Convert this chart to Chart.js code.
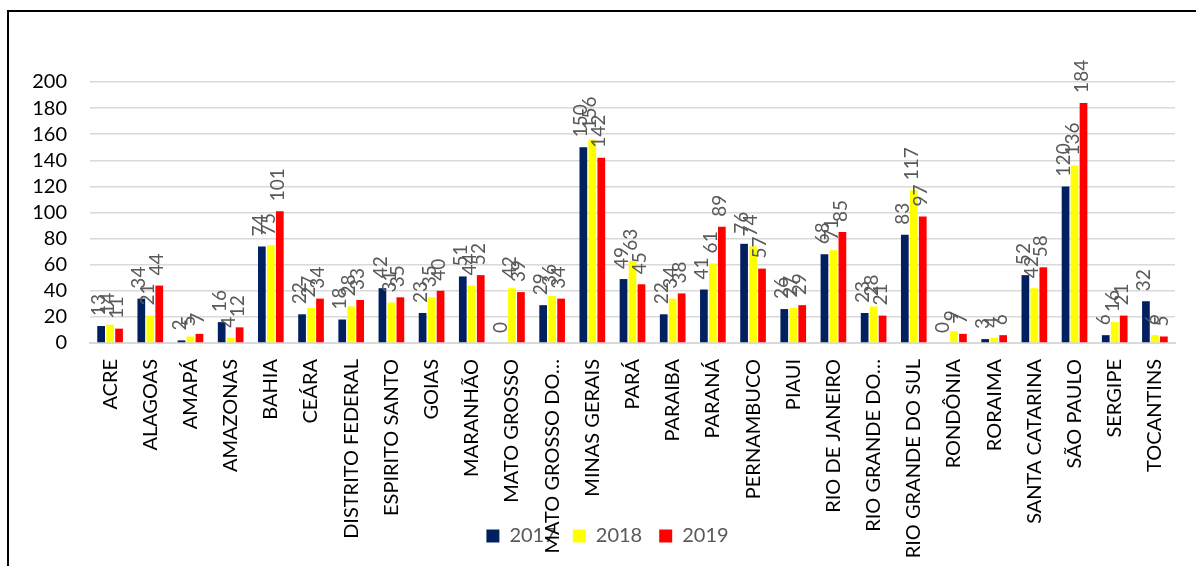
<!DOCTYPE html>
<html>
<head>
<meta charset="utf-8">
<script src="https://cdn.jsdelivr.net/npm/chart.js@4.4.0/dist/chart.umd.min.js"></script>
<style>
  html, body { margin: 0; padding: 0; background: #fff; overflow: hidden; }
  #frame { position: absolute; left: 7px; top: 10px; width: 1260px; height: 620px; border: 2px solid #000; }
  #wrap { position: absolute; left: 0; top: 0; width: 1196px; height: 566px; }
</style>
</head>
<body>
<div id="frame"></div>
<div id="wrap"><canvas id="c"></canvas></div>
<script>
// ---- Dados ----
const estados = ['ACRE', 'ALAGOAS', 'AMAPÁ', 'AMAZONAS', 'BAHIA', 'CEÁRA', 'DISTRITO FEDERAL',
  'ESPIRITO SANTO', 'GOIAS', 'MARANHÃO', 'MATO GROSSO', 'MATO GROSSO DO…', 'MINAS GERAIS',
  'PARÁ', 'PARAIBA', 'PARANÁ', 'PERNAMBUCO', 'PIAUI', 'RIO DE JANEIRO', 'RIO GRANDE DO…',
  'RIO GRANDE DO SUL', 'RONDÔNIA', 'RORAIMA', 'SANTA CATARINA', 'SÃO PAULO', 'SERGIPE', 'TOCANTINS'];

const anos = ['2017', '2018', '2019'];
const v2017 = [13, 34, 2, 16, 74, 22, 18, 42, 23, 51, 0, 29, 150, 49, 22, 41, 76, 26, 68, 23, 83, 0, 3, 52, 120, 6, 32];
const v2018 = [14, 21, 5, 4, 75, 27, 28, 31, 35, 44, 42, 36, 156, 63, 34, 61, 74, 27, 71, 28, 117, 9, 4, 42, 136, 16, 6];
const v2019 = [11, 44, 7, 12, 101, 34, 33, 35, 40, 52, 39, 34, 142, 45, 38, 89, 57, 29, 85, 21, 97, 7, 6, 58, 184, 21, 5];
const cores = ['#002060', '#ffff00', '#ff0000'];

const FONTE = 'Lato, "Open Sans", sans-serif';

// ---- Rótulos de dados girados acima das barras ----
const rotulos = {
  id: 'rotulos',
  afterDatasetsDraw(chart) {
    const ctx = chart.ctx;
    ctx.save();
    ctx.font = '19px ' + FONTE;
    ctx.fillStyle = '#595959';
    ctx.textAlign = 'left';
    ctx.textBaseline = 'middle';
    chart.data.datasets.forEach((ds, di) => {
      chart.getDatasetMeta(di).data.forEach((el, i) => {
        ctx.save();
        ctx.translate(el.x - 2, el.y - 10);
        ctx.rotate(-Math.PI / 2);
        ctx.fillText(String(ds.data[i]), 0, 0);
        ctx.restore();
      });
    });
    ctx.restore();
  }
};

// eixos menores que o texto (legenda por cima): libera o recorte dos rótulos
const semRecorte = {
  id: 'semRecorte',
  beforeDraw(chart) {
    chart.scales.x.bottom = chart.height;
    chart.scales.y.left = 0;
  }
};

new Chart(document.getElementById('c').getContext('2d'), {
  type: 'bar',
  data: {
    labels: estados,
    datasets: [v2017, v2018, v2019].map((d, i) => ({
      label: anos[i],
      data: d,
      backgroundColor: cores[i],
      borderWidth: 0,
      categoryPercentage: 0.67,
      barPercentage: 0.86
    }))
  },
  options: {
    responsive: true,
    maintainAspectRatio: false,
    animation: false,
    layout: { padding: { left: 40, right: 21, top: 82, bottom: 10 } },
    plugins: {
      tooltip: { enabled: false },
      legend: {
        position: 'bottom',
        labels: {
          font: { family: FONTE, size: 20 },
          color: '#595959',
          boxWidth: 13,
          boxHeight: 13,
          padding: 17
        }
      }
    },
    scales: {
      x: {
        grid: { display: false, drawTicks: false },
        border: { color: '#d9d9d9', width: 2 },
        ticks: {
          autoSkip: false,
          maxRotation: 90,
          minRotation: 90,
          padding: 16,
          color: '#000',
          font: { family: FONTE, size: 20 }
        },
        afterFit: s => { s.height = 166; }
      },
      y: {
        min: 0,
        max: 200,
        border: { display: false },
        grid: { color: '#d9d9d9', lineWidth: 1.5, drawTicks: false },
        ticks: {
          stepSize: 20,
          autoSkip: false,
          padding: 23,
          color: '#000',
          font: { family: FONTE, size: 20 }
        },
        afterFit: s => { s.width = 50; }
      }
    }
  },
  plugins: [rotulos, semRecorte]
});
</script>
</body>
</html>
